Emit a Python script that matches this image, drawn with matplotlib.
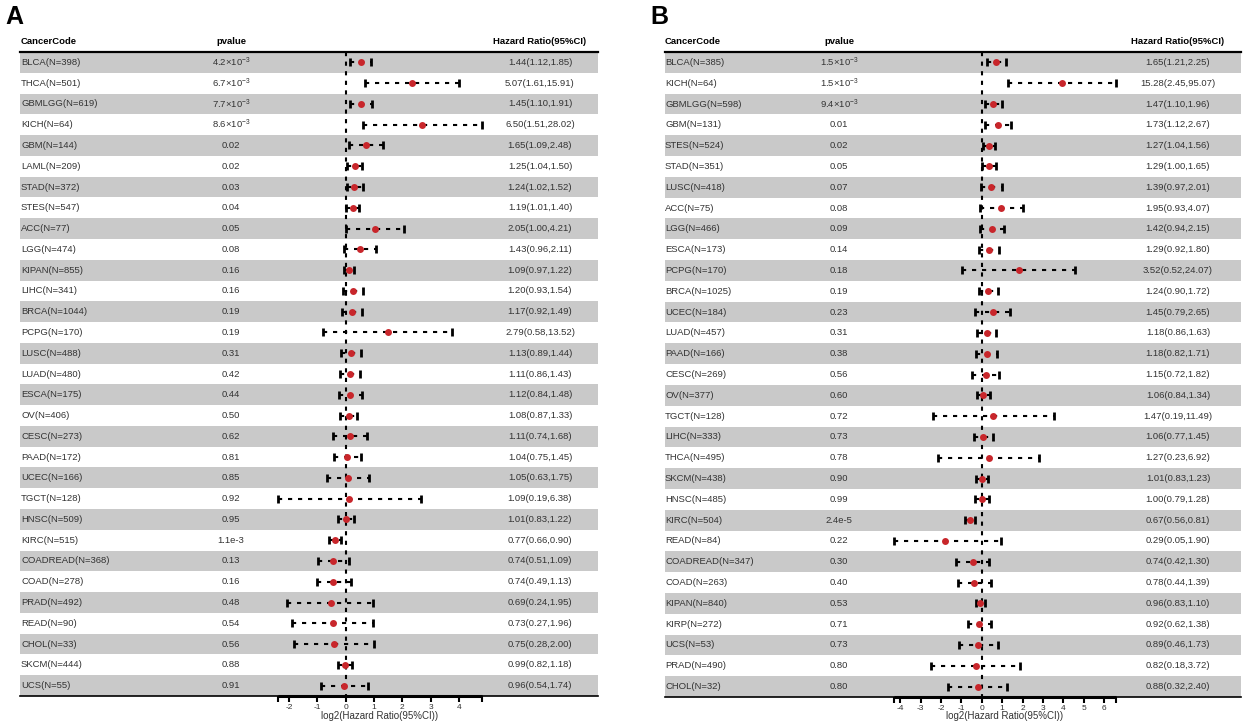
import numpy as np
import matplotlib
matplotlib.use("Agg")
import matplotlib.pyplot as plt

plt.rcParams['font.family'] = ['Liberation Sans', 'DejaVu Sans']
plt.rcParams['mathtext.fontset'] = 'custom'
plt.rcParams['mathtext.rm'] = 'Liberation Sans'
plt.rcParams['mathtext.default'] = 'regular'

# ---- panel A data ----
codes_a = ['BLCA', 'THCA', 'GBMLGG', 'KICH', 'GBM', 'LAML', 'STAD', 'STES', 'ACC', 'LGG',
           'KIPAN', 'LIHC', 'BRCA', 'PCPG', 'LUSC', 'LUAD', 'ESCA', 'OV', 'CESC', 'PAAD',
           'UCEC', 'TGCT', 'HNSC', 'KIRC', 'COADREAD', 'COAD', 'PRAD', 'READ', 'CHOL',
           'SKCM', 'UCS']
n_a = [398, 501, 619, 64, 144, 209, 372, 547, 77, 474, 855, 341, 1044, 170, 488, 480,
       175, 406, 273, 172, 166, 128, 509, 515, 368, 278, 492, 90, 33, 444, 55]
p_a = [r'$4.2{\times}10^{-3}$', r'$6.7{\times}10^{-3}$', r'$7.7{\times}10^{-3}$',
       r'$8.6{\times}10^{-3}$', '0.02', '0.02', '0.03', '0.04', '0.05', '0.08', '0.16',
       '0.16', '0.19', '0.19', '0.31', '0.42', '0.44', '0.50', '0.62', '0.81', '0.85',
       '0.92', '0.95', '1.1e-3', '0.13', '0.16', '0.48', '0.54', '0.56', '0.88', '0.91']
hr_a = [1.44, 5.07, 1.45, 6.50, 1.65, 1.25, 1.24, 1.19, 2.05, 1.43, 1.09, 1.20, 1.17, 2.79,
        1.13, 1.11, 1.12, 1.08, 1.11, 1.04, 1.05, 1.09, 1.01, 0.77, 0.74, 0.74, 0.69, 0.73,
        0.75, 0.99, 0.96]
lo_a = [1.12, 1.61, 1.10, 1.51, 1.09, 1.04, 1.02, 1.01, 1.00, 0.96, 0.97, 0.93, 0.92, 0.58,
        0.89, 0.86, 0.84, 0.87, 0.74, 0.75, 0.63, 0.19, 0.83, 0.66, 0.51, 0.49, 0.24, 0.27,
        0.28, 0.82, 0.54]
hi_a = [1.85, 15.91, 1.91, 28.02, 2.48, 1.50, 1.52, 1.40, 4.21, 2.11, 1.22, 1.54, 1.49, 13.52,
        1.44, 1.43, 1.48, 1.33, 1.68, 1.45, 1.75, 6.38, 1.22, 0.90, 1.09, 1.13, 1.95, 1.96,
        2.00, 1.18, 1.74]
ticks_a = [-2, -1, 0, 1, 2, 3, 4]

# ---- panel B data ----
codes_b = ['BLCA', 'KICH', 'GBMLGG', 'GBM', 'STES', 'STAD', 'LUSC', 'ACC', 'LGG', 'ESCA',
           'PCPG', 'BRCA', 'UCEC', 'LUAD', 'PAAD', 'CESC', 'OV', 'TGCT', 'LIHC', 'THCA',
           'SKCM', 'HNSC', 'KIRC', 'READ', 'COADREAD', 'COAD', 'KIPAN', 'KIRP', 'UCS',
           'PRAD', 'CHOL']
n_b = [385, 64, 598, 131, 524, 351, 418, 75, 466, 173, 170, 1025, 184, 457, 166, 269, 377,
       128, 333, 495, 438, 485, 504, 84, 347, 263, 840, 272, 53, 490, 32]
p_b = [r'$1.5{\times}10^{-3}$', r'$1.5{\times}10^{-3}$', r'$9.4{\times}10^{-3}$', '0.01',
       '0.02', '0.05', '0.07', '0.08', '0.09', '0.14', '0.18', '0.19', '0.23', '0.31', '0.38',
       '0.56', '0.60', '0.72', '0.73', '0.78', '0.90', '0.99', '2.4e-5', '0.22', '0.30',
       '0.40', '0.53', '0.71', '0.73', '0.80', '0.80']
hr_b = [1.65, 15.28, 1.47, 1.73, 1.27, 1.29, 1.39, 1.95, 1.42, 1.29, 3.52, 1.24, 1.45, 1.18,
        1.18, 1.15, 1.06, 1.47, 1.06, 1.27, 1.01, 1.00, 0.67, 0.29, 0.74, 0.78, 0.96, 0.92,
        0.89, 0.82, 0.88]
lo_b = [1.21, 2.45, 1.10, 1.12, 1.04, 1.00, 0.97, 0.93, 0.94, 0.92, 0.52, 0.90, 0.79, 0.86,
        0.82, 0.72, 0.84, 0.19, 0.77, 0.23, 0.83, 0.79, 0.56, 0.05, 0.42, 0.44, 0.83, 0.62,
        0.46, 0.18, 0.32]
hi_b = [2.25, 95.07, 1.96, 2.67, 1.56, 1.65, 2.01, 4.07, 2.15, 1.80, 24.07, 1.72, 2.65, 1.63,
        1.71, 1.82, 1.34, 11.49, 1.45, 6.92, 1.23, 1.28, 0.81, 1.90, 1.30, 1.39, 1.10, 1.38,
        1.73, 3.72, 2.40]
ticks_b = [-4, -3, -2, -1, 0, 1, 2, 3, 4, 5, 6]

W, H = 1248, 728
fig = plt.figure(figsize=(W / 100, H / 100), dpi=100)

txt_col = '#333333'
fs = 6.8


def panel(letter, box, zero_px, scale, col_px, codes, ns, pvals, hr, lo, hi, ticks):
    l, t, r, b = box
    ax = fig.add_axes([l / W, 1 - b / H, (r - l) / W, (b - t) / H])
    nrow = len(codes)
    ax.set_xlim((l - zero_px) / scale, (r - zero_px) / scale)
    ax.set_ylim(nrow + 0.5, 0.5)
    rows = np.arange(1, nrow + 1)

    # alternate grey bands
    for i in rows:
        if i % 2 == 1:
            ax.axhspan(i - 0.5, i + 0.5, color='#C9C9C9', lw=0, zorder=0)

    # text columns
    tr = ax.get_yaxis_transform()
    xc = [(p - l) / (r - l) for p in col_px]
    ax.text(xc[0], 0, 'CancerCode', transform=tr, fontsize=fs, fontweight='bold',
            ha='left', va='center')
    ax.text(xc[1], 0, 'pvalue', transform=tr, fontsize=fs, fontweight='bold',
            ha='center', va='center')
    ax.text(xc[2], 0, 'Hazard Ratio(95%CI)', transform=tr, fontsize=fs,
            fontweight='bold', ha='center', va='center')
    for i, y in enumerate(rows):
        ax.text(xc[0], y, f'{codes[i]}(N={ns[i]})', transform=tr, fontsize=fs,
                color=txt_col, ha='left', va='center')
        ax.text(xc[1], y, pvals[i], transform=tr, fontsize=fs, color=txt_col,
                ha='center', va='center')
        ax.text(xc[2], y, f'{hr[i]:.2f}({lo[i]:.2f},{hi[i]:.2f})', transform=tr,
                fontsize=fs, color=txt_col, ha='center', va='center')

    lhr = np.log2(hr)
    llo = np.log2(lo)
    lhi = np.log2(hi)

    # reference line at 0
    ax.plot([0, 0], [0.5, nrow + 0.5], color='black', lw=1.5, dashes=(2, 2.6), zorder=2)

    # confidence intervals
    for i, y in enumerate(rows):
        ax.plot([llo[i], lhi[i]], [y, y], color='black', lw=1.5, dashes=(2, 2.8), zorder=3)
    ax.plot(llo, rows, ls='none', marker='|', ms=6, mew=2, color='black', zorder=3)
    ax.plot(lhi, rows, ls='none', marker='|', ms=6, mew=2, color='black', zorder=3)
    ax.plot(lhr, rows, ls='none', marker='o', ms=5, mew=0, color='#C8262B', zorder=4)

    # axis
    xmin, xmax = llo.min(), lhi.max()
    ax.plot([xmin, xmax], [nrow + 0.5, nrow + 0.5], color='black', lw=2.2,
            clip_on=False, solid_capstyle='butt', zorder=5)
    ax.set_xticks(list(ticks) + [xmin, xmax])
    ax.set_xticklabels([str(v) for v in ticks] + ['', ''])
    ax.tick_params(axis='x', direction='out', length=4, width=1.5, labelsize=6,
                   pad=1.5, labelcolor=txt_col)
    ax.set_yticks([])
    for s in ['left', 'right']:
        ax.spines[s].set_visible(False)
    ax.spines['top'].set_linewidth(1.6)
    ax.spines['bottom'].set_linewidth(1.2)

    xl = zero_px + scale * (xmin + xmax) / 2
    fig.text(xl / W, 1 - 716 / H, 'log2(Hazard Ratio(95%CI))', fontsize=7,
             color=txt_col, ha='center', va='center')
    fig.text((l - 15) / W, 1 - 17 / H, letter, fontsize=18, fontweight='bold',
             ha='left', va='center')
    return ax


panel('A', (20, 52, 598, 696), 345.7, 28.3, (21, 231, 540),
      codes_a, n_a, p_a, hr_a, lo_a, hi_a, ticks_a)
panel('B', (665, 52, 1241, 697), 981.7, 20.4, (665, 839, 1178),
      codes_b, n_b, p_b, hr_b, lo_b, hi_b, ticks_b)

fig.savefig('out.png', dpi=100)
